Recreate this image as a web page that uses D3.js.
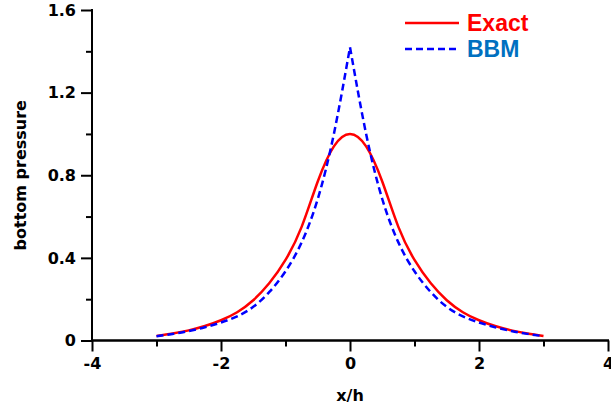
<!DOCTYPE html>
<html>
<head>
<meta charset="utf-8">
<script src="https://d3js.org/d3.v7.min.js"></script>
<style>
body { margin: 0; background: #fff; }
svg text { font-family: "DejaVu Sans", sans-serif; font-weight: bold; }
</style>
</head>
<body>
<div id="chart"></div>
<script>
// values (x/h from -3 to 3)
var xs = [-3, -2.75, -2.5, -2.25, -2, -1.75, -1.5, -1.25, -1, -0.75, -0.5, -0.25, 0,
          0.25, 0.5, 0.75, 1, 1.25, 1.5, 1.75, 2, 2.25, 2.5, 2.75, 3];
var exactVals = [0.022, 0.034, 0.049, 0.07, 0.098, 0.137, 0.195, 0.278, 0.39, 0.55, 0.77, 0.94, 1.0,
                 0.94, 0.77, 0.55, 0.39, 0.278, 0.195, 0.137, 0.098, 0.07, 0.049, 0.034, 0.022];
var bbmVals = [0.021, 0.032, 0.046, 0.064, 0.087, 0.117, 0.163, 0.235, 0.335, 0.475, 0.685, 1.0, 1.42,
               1.0, 0.685, 0.475, 0.335, 0.235, 0.163, 0.117, 0.087, 0.064, 0.046, 0.032, 0.021];
var seriesNames = ["Exact", "BBM"];
var xTicks = [-4, -2, 0, 2, 4];
var xMinor = [-3, -1, 1, 3];
var yTicks = [0, 0.4, 0.8, 1.2, 1.6];
var yMinor = [0.2, 0.6, 1.0, 1.4];

var width = 611, height = 413;
var x0 = 92, x1 = 608; // plot left / right
var y0 = 340.5, y1 = 10; // plot bottom / top

var svg = d3.select("#chart").append("svg")
    .attr("width", width)
    .attr("height", height);

var x = d3.scaleLinear().domain([-4, 4]).range([x0, x1]);
var y = d3.scaleLinear().domain([0, 1.6]).range([y0, y1]);

// axes (major + minor ticks)
svg.append("g")
    .attr("class", "xaxis")
    .attr("transform", "translate(0," + y0 + ")")
    .call(d3.axisBottom(x).tickValues(xTicks).tickSize(11).tickPadding(6)
        .tickFormat(function(d) { return String(d); }));
svg.append("g")
    .attr("class", "xaxis")
    .attr("transform", "translate(0," + y0 + ")")
    .call(d3.axisBottom(x).tickValues(xMinor).tickSize(6).tickFormat(""));

svg.append("g")
    .attr("class", "yaxis")
    .attr("transform", "translate(" + x0 + ",0)")
    .call(d3.axisLeft(y).tickValues(yTicks).tickSize(11).tickPadding(5)
        .tickFormat(function(d) { return d === 0 ? "0" : d3.format(".1f")(d); }));
svg.append("g")
    .attr("class", "yaxis")
    .attr("transform", "translate(" + x0 + ",0)")
    .call(d3.axisLeft(y).tickValues(yMinor).tickSize(6).tickFormat(""));

svg.selectAll(".xaxis .domain")
    .attr("d", "M" + (x0 - 1) + ",0H" + (x1 + 1));
svg.selectAll(".yaxis .domain")
    .attr("d", "M0," + (y0 + 1) + "V" + (y1 - 1));
svg.selectAll(".domain, .tick line")
    .attr("stroke", "#000")
    .attr("stroke-width", 2);
svg.selectAll(".tick text")
    .attr("fill", "#000")
    .style("font-size", "16px");

// axis titles
svg.append("text")
    .attr("x", (x0 + x1) / 2)
    .attr("y", 401)
    .attr("text-anchor", "middle")
    .style("font-size", "16px")
    .text("x/h");

svg.append("text")
    .attr("transform", "translate(26," + ((y0 + y1) / 2) + ") rotate(-90)")
    .attr("text-anchor", "middle")
    .style("font-size", "16px")
    .text("bottom pressure");

// curves
var line = d3.line()
    .x(function(d) { return x(d[0]); })
    .y(function(d) { return y(d[1]); })
    .curve(d3.curveNatural);

var exactData = xs.map(function(d, i) { return [d, exactVals[i]]; });
var bbmData = xs.map(function(d, i) { return [d, bbmVals[i]]; });
var mid = xs.indexOf(0);

svg.append("path")
    .attr("d", line(exactData))
    .attr("fill", "none")
    .attr("stroke", "#ff0000")
    .attr("stroke-width", 2.5);

// BBM has a cusp at x=0, so both halves are drawn as separate pieces
svg.append("path")
    .attr("d", line(bbmData.slice(0, mid + 1)) + line(bbmData.slice(mid)))
    .attr("fill", "none")
    .attr("stroke", "#0000ff")
    .attr("stroke-width", 2.5)
    .attr("stroke-dasharray", "7,4");

// legend
var legendColors = ["#ff0000", "#0070c0"];
var legendLine = ["#ff0000", "#0000ff"];
var legend = svg.selectAll("g.legend")
    .data(seriesNames)
    .enter()
    .append("g")
    .attr("class", "legend")
    .attr("transform", function(d, i) { return "translate(0," + (23 + i * 26) + ")"; });

legend.append("line")
    .attr("x1", 405)
    .attr("x2", 459)
    .attr("stroke", function(d, i) { return legendLine[i]; })
    .attr("stroke-width", 2.5)
    .attr("stroke-dasharray", function(d, i) { return i == 1 ? "7,4" : null; });

legend.append("text")
    .attr("x", 467)
    .attr("y", 8)
    .attr("fill", function(d, i) { return legendColors[i]; })
    .style("font-family", "'Liberation Sans', Arial, sans-serif")
    .style("font-size", "23px")
    .text(function(d) { return d; });
</script>
</body>
</html>
